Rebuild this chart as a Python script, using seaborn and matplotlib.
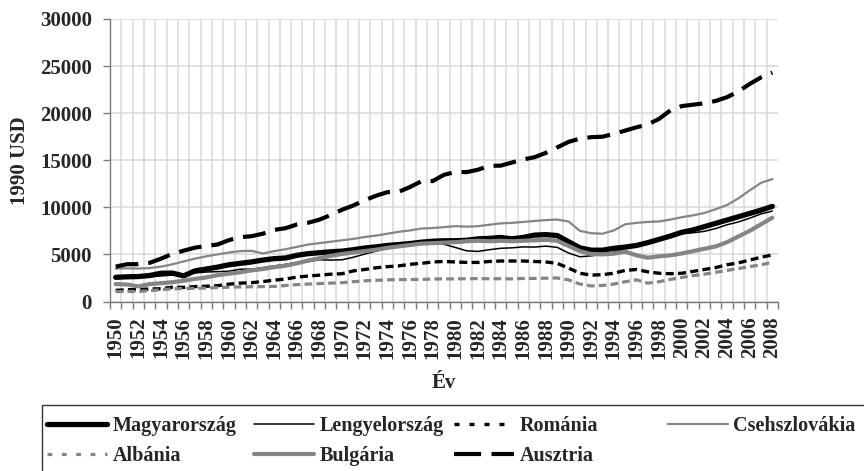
import numpy as np
import pandas as pd
import matplotlib
matplotlib.use("Agg")
import matplotlib.pyplot as plt
import seaborn as sns
from matplotlib.lines import Line2D
from matplotlib.patches import Rectangle

# ---------------- data ----------------
years = list(range(1950, 2009))

magyarorszag = [2570, 2620, 2650, 2760, 3000, 3020, 2720, 3250, 3450, 3650,
                3900, 4050, 4200, 4400, 4550, 4620, 4900, 5080, 5180, 5280,
                5350, 5500, 5680, 5800, 5950, 6050, 6150, 6300, 6400, 6450,
                6450, 6500, 6650, 6700, 6800, 6650, 6800, 7050, 7100, 7000,
                6350, 5700, 5450, 5450, 5650, 5780, 5950, 6250, 6600, 6950,
                7350, 7600, 7950, 8300, 8650, 9000, 9350, 9700, 10100]

lengyelorszag = [2450, 2480, 2530, 2620, 2710, 2810, 2900, 3030, 3130, 3170,
                 3220, 3430, 3430, 3600, 3770, 3950, 4140, 4230, 4430, 4400,
                 4430, 4700, 5040, 5340, 5680, 5810, 5920, 6080, 6210, 6080,
                 5740, 5380, 5320, 5500, 5650, 5700, 5800, 5780, 5880, 5750,
                 5150, 4750, 4850, 5000, 5240, 5600, 5900, 6300, 6600, 6900,
                 7200, 7300, 7450, 7750, 8150, 8450, 8850, 9300, 9600]

romania = [1180, 1250, 1270, 1330, 1350, 1520, 1500, 1580, 1620, 1680,
           1840, 1950, 2000, 2120, 2260, 2390, 2590, 2700, 2800, 2900,
           2950, 3250, 3400, 3580, 3700, 3780, 3950, 4050, 4200, 4250,
           4200, 4150, 4150, 4250, 4300, 4300, 4300, 4250, 4200, 4050,
           3550, 3000, 2800, 2850, 3000, 3300, 3400, 3150, 3000, 2950,
           3000, 3200, 3400, 3600, 3900, 4100, 4400, 4700, 4950]

csehszlovakia = [3500, 3520, 3500, 3550, 3700, 3950, 4250, 4550, 4800, 5000,
                 5200, 5350, 5380, 5100, 5350, 5550, 5800, 6050, 6200, 6350,
                 6500, 6650, 6850, 7000, 7200, 7400, 7550, 7750, 7800, 7900,
                 8000, 7950, 8000, 8150, 8300, 8350, 8450, 8550, 8650, 8700,
                 8500, 7500, 7250, 7200, 7550, 8200, 8350, 8450, 8500, 8700,
                 8950, 9150, 9400, 9800, 10250, 10950, 11800, 12600, 13000]

albania = [1050, 1070, 1060, 1150, 1250, 1350, 1380, 1400, 1430, 1480,
           1520, 1550, 1560, 1580, 1600, 1700, 1790, 1850, 1900, 1950,
           2000, 2100, 2200, 2250, 2300, 2330, 2330, 2350, 2380, 2400,
           2400, 2420, 2430, 2420, 2420, 2400, 2450, 2450, 2480, 2500,
           2300, 1850, 1650, 1700, 1850, 2100, 2300, 1950, 2100, 2350,
           2550, 2750, 2900, 3100, 3300, 3500, 3700, 3900, 4150]

bulgaria = [1850, 1800, 1600, 1850, 1950, 2050, 2200, 2400, 2550, 2800,
            2950, 3100, 3300, 3450, 3650, 3800, 4050, 4350, 4600, 4850,
            5050, 5200, 5350, 5500, 5700, 5850, 6000, 6150, 6200, 6250,
            6300, 6400, 6450, 6400, 6450, 6400, 6450, 6500, 6550, 6450,
            5900, 5350, 5050, 5000, 5080, 5300, 4900, 4650, 4800, 4900,
            5100, 5350, 5600, 5850, 6300, 6900, 7500, 8200, 8900]

ausztria = [3706, 3959, 3967, 4107, 4545, 5053, 5397, 5716, 5907, 6051,
            6519, 6827, 6938, 7200, 7602, 7784, 8175, 8363, 8693, 9185,
            9747, 10200, 10757, 11235, 11610, 11646, 12158, 12768, 12790, 13453,
            13759, 13740, 13993, 14405, 14428, 14758, 15083, 15326, 15789, 16360,
            16950, 17300, 17450, 17500, 17800, 18150, 18500, 18800, 19400, 20300,
            20750, 20900, 21050, 21300, 21700, 22300, 23100, 23800, 24300]

series_names = ["Magyarország", "Lengyelország", "Románia", "Csehszlovákia",
                "Albánia", "Bulgária", "Ausztria"]
series_values = [magyarorszag, lengyelorszag, romania, csehszlovakia,
                 albania, bulgaria, ausztria]

ytick_values = [0, 5000, 10000, 15000, 20000, 25000, 30000]
xtick_years = years[::2]

df = pd.DataFrame({"Év": years * len(series_names),
                   "GDP": sum(series_values, []),
                   "Ország": [n for n in series_names for _ in years]})

# ---------------- styles ----------------
GRAY = "#858585"
styles = {
    "Magyarország": dict(color="black", lw=3.8, ls="-"),
    "Lengyelország": dict(color="black", lw=1.1, ls="-"),
    "Románia": dict(color="black", lw=2.4, ls=(0, (2.4, 1.3))),
    "Csehszlovákia": dict(color=GRAY, lw=1.6, ls="-"),
    "Albánia": dict(color=GRAY, lw=2.3, ls=(0, (2.4, 1.3))),
    "Bulgária": dict(color=GRAY, lw=3.0, ls="-"),
    "Ausztria": dict(color="black", lw=3.0, ls=(0, (5.5, 2.4))),
}
legend_styles = {
    "Románia": (0, (1.5, 3.0)),
    "Albánia": (0, (1.5, 3.0)),
    "Ausztria": (0, (6.5, 2.5)),
}

sns.set_theme(style="white")
plt.rcParams['font.family'] = ['Liberation Serif', 'DejaVu Serif']
plt.rcParams['font.weight'] = 'bold'

W, H = 864, 471
fig = plt.figure(figsize=(W / 100, H / 100), dpi=100)
ax = fig.add_axes([110 / W, 1 - 301.5 / H, 668 / W, 282.5 / H])

for name in series_names:
    st = styles[name]
    sns.lineplot(data=df[df["Ország"] == name], x="Év", y="GDP", ax=ax,
                 color=st["color"], linewidth=st["lw"], linestyle=st["ls"],
                 errorbar=None, legend=False, dash_capstyle="butt",
                 solid_joinstyle="round")

ax.set_xlim(1949.5, 2008.5)
ax.set_ylim(0, 30000)

# x axis
ax.set_xticks(xtick_years)
ax.set_xticklabels([str(y) for y in xtick_years], rotation=90,
                   fontsize=15, fontweight="bold")
ax.set_xticks(np.arange(1949.5, 2009, 1.0), minor=True)
ax.tick_params(axis="x", which="major", length=0, pad=11)
ax.tick_params(axis="x", which="minor", length=5, width=1.0,
               color="#7a7a7a", direction="out", bottom=True)
# y axis
ax.set_yticks(ytick_values)
ax.set_yticklabels([str(v) for v in ytick_values], fontsize=15,
                   fontweight="bold")
ax.tick_params(axis="y", which="major", length=5, width=1.0,
               color="#7a7a7a", direction="out", left=True, pad=8)

ax.grid(axis="y", which="major", color="#d9d9d9", lw=1.1)
ax.grid(axis="x", which="minor", color="#d9d9d9", lw=1.1)
ax.grid(axis="x", which="major", visible=False)
ax.set_axisbelow(True)
minor_ticks = ax.xaxis.get_minor_ticks()
minor_ticks[0].gridline.set_visible(False)
minor_ticks[-1].gridline.set_visible(False)

for s in ["top", "right"]:
    ax.spines[s].set_visible(False)
for s in ["left", "bottom"]:
    ax.spines[s].set_color("#7a7a7a")
    ax.spines[s].set_linewidth(1.0)

ax.set_ylabel("1990 USD", fontsize=15, fontweight="bold", labelpad=7)
ax.set_xlabel("Év", fontsize=15, fontweight="bold", labelpad=10)

# ---------------- legend ----------------
fig.patches.append(Rectangle((41.5 / W, -0.05), 1.0, 1 - 405 / H + 0.05,
                             transform=fig.transFigure, fill=False,
                             edgecolor="#333333", lw=1.0))

def handle(name):
    st = styles[name]
    return Line2D([0], [0], color=st["color"], lw=st["lw"],
                  linestyle=legend_styles.get(name, st["ls"]),
                  dash_capstyle="butt")

columns = [(47, ["Magyarország", "Albánia"]),
           (254, ["Lengyelország", "Bulgária"]),
           (454, ["Románia", "Ausztria"]),
           (668, ["Csehszlovákia"])]
for xpx, names in columns:
    fig.legend([handle(n) for n in names], names, loc="upper left",
               bbox_to_anchor=(xpx / W, 1 - 416 / H), frameon=False,
               borderpad=0, borderaxespad=0, handlelength=3.0,
               handletextpad=0.25, labelspacing=0.5,
               prop=dict(family="Liberation Serif", weight="bold", size=14.5))

fig.savefig("out.png", dpi=100)
